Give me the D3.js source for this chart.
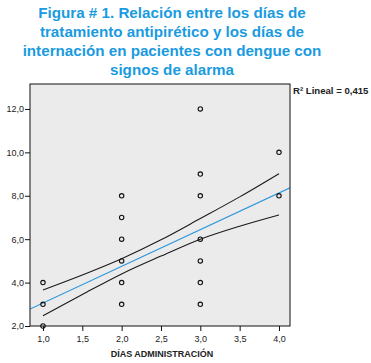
<!DOCTYPE html>
<html>
<head>
<meta charset="utf-8">
<script src="https://cdn.jsdelivr.net/npm/d3@7"></script>
<style>
  body { margin: 0; background: #fff; }
  svg { display: block; }
</style>
</head>
<body>
<div id="chart"></div>
<script>
// title lines
const titleLines = [
    "Figura # 1. Relación entre los días de",
    "tratamiento antipirético y los días de",
    "internación en pacientes con dengue con",
    "signos de alarma"
];

// observed points (días administración, días internación)
const pointX = [1, 1, 1, 2, 2, 2, 2, 2, 2, 3, 3, 3, 3, 3, 3, 3, 4, 4];
const pointY = [2, 3, 4, 3, 4, 5, 6, 7, 8, 3, 4, 5, 6, 8, 9, 12, 8, 10];

// linear fit
const fitIntercept = 1.37;
const fitSlope = 1.69;

// confidence band for the mean
const bandX = [1, 1.5, 2, 2.5, 3, 3.5, 4];
const bandUpper = [3.66, 4.35, 5.1, 5.97, 6.95, 7.95, 9.02];
const bandLower = [2.47, 3.45, 4.4, 5.22, 6.0, 6.6, 7.12];

const xTicks = [1, 1.5, 2, 2.5, 3, 3.5, 4];
const yTicks = [2, 4, 6, 8, 10, 12];
const r2Label = "R² Lineal = 0,415";
const xLabel = "DÍAS ADMINISTRACIÓN";

const dimensions = {
    width: 371,
    height: 363,
    plot: { left: 30, right: 290, top: 84, bottom: 326 }
};

const svg = d3.select("#chart")
    .append("svg")
    .attr("width", dimensions.width)
    .attr("height", dimensions.height);

const fmt = d => d3.format(".1f")(d).replace(".", ",");

const xScale = d3.scaleLinear()
    .domain([0.835, 4.14])
    .range([dimensions.plot.left, dimensions.plot.right]);

const yScale = d3.scaleLinear()
    .domain([2, 13.15])
    .range([dimensions.plot.bottom, dimensions.plot.top]);

// title
svg.append("g")
    .selectAll("text")
    .data(titleLines)
    .enter()
    .append("text")
    .attr("x", 172)
    .attr("y", (d, i) => 17.5 + i * 19.3)
    .attr("text-anchor", "middle")
    .style("font-family", "'Liberation Sans', Arial, sans-serif")
    .style("font-weight", "bold")
    .style("font-size", "15.2px")
    .style("fill", "#1a9be0")
    .text(d => d);

// plot background
svg.append("rect")
    .attr("x", dimensions.plot.left)
    .attr("y", dimensions.plot.top)
    .attr("width", dimensions.plot.right - dimensions.plot.left)
    .attr("height", dimensions.plot.bottom - dimensions.plot.top)
    .attr("fill", "#ebebeb");

svg.append("clipPath")
    .attr("id", "plot-clip")
    .append("rect")
    .attr("x", dimensions.plot.left)
    .attr("y", dimensions.plot.top)
    .attr("width", dimensions.plot.right - dimensions.plot.left)
    .attr("height", dimensions.plot.bottom - dimensions.plot.top);

const plot = svg.append("g").attr("clip-path", "url(#plot-clip)");

// fit line across the full plot width
const xDom = xScale.domain();
plot.append("line")
    .attr("x1", xScale(xDom[0]))
    .attr("y1", yScale(fitIntercept + fitSlope * xDom[0]))
    .attr("x2", xScale(xDom[1]))
    .attr("y2", yScale(fitIntercept + fitSlope * xDom[1]))
    .attr("stroke", "#2a96dc")
    .attr("stroke-width", 1.2);

// confidence band lines
const bandLine = d3.line()
    .x(d => xScale(d[0]))
    .y(d => yScale(d[1]))
    .curve(d3.curveMonotoneX);

[bandUpper, bandLower].forEach(vals => {
    plot.append("path")
        .attr("d", bandLine(bandX.map((x, i) => [x, vals[i]])))
        .attr("fill", "none")
        .attr("stroke", "#1a1a1a")
        .attr("stroke-width", 1.1);
});

// points
svg.append("g")
    .selectAll("circle")
    .data(pointX.map((x, i) => ({ x: x, y: pointY[i] })))
    .enter()
    .append("circle")
    .attr("cx", d => xScale(d.x))
    .attr("cy", d => yScale(d.y))
    .attr("r", 2.2)
    .attr("fill", "none")
    .attr("stroke", "#111")
    .attr("stroke-width", 1.1);

// frame
svg.append("rect")
    .attr("x", dimensions.plot.left)
    .attr("y", dimensions.plot.top)
    .attr("width", dimensions.plot.right - dimensions.plot.left)
    .attr("height", dimensions.plot.bottom - dimensions.plot.top)
    .attr("fill", "none")
    .attr("stroke", "#111")
    .attr("stroke-width", 1);

// axes
const xAxis = svg.append("g")
    .attr("transform", `translate(0,${dimensions.plot.bottom})`)
    .call(d3.axisBottom(xScale).tickValues(xTicks).tickFormat(fmt).tickSize(5).tickSizeOuter(0));

const yAxis = svg.append("g")
    .attr("transform", `translate(${dimensions.plot.left},0)`)
    .call(d3.axisLeft(yScale).tickValues(yTicks).tickFormat(fmt).tickSize(5).tickSizeOuter(0));

[xAxis, yAxis].forEach(ax => {
    ax.select(".domain").remove();
    ax.selectAll("line").attr("stroke", "#111");
    ax.selectAll("text")
        .style("font-family", "'Liberation Sans', Arial, sans-serif")
        .style("font-size", "9px")
        .style("fill", "#222");
});
xAxis.selectAll("text").attr("dy", "0.9em");
yAxis.selectAll("text").attr("x", -6);

// axis title
svg.append("text")
    .attr("x", 162)
    .attr("y", 357)
    .attr("text-anchor", "middle")
    .style("font-family", "'Liberation Sans', Arial, sans-serif")
    .style("font-weight", "bold")
    .style("font-size", "9px")
    .style("fill", "#222")
    .text(xLabel);

// R² label
svg.append("text")
    .attr("x", 293)
    .attr("y", 94)
    .style("font-family", "'Liberation Sans', Arial, sans-serif")
    .style("font-size", "9.6px")
    .style("font-weight", "bold")
    .style("fill", "#222")
    .text(r2Label);
</script>
</body>
</html>
